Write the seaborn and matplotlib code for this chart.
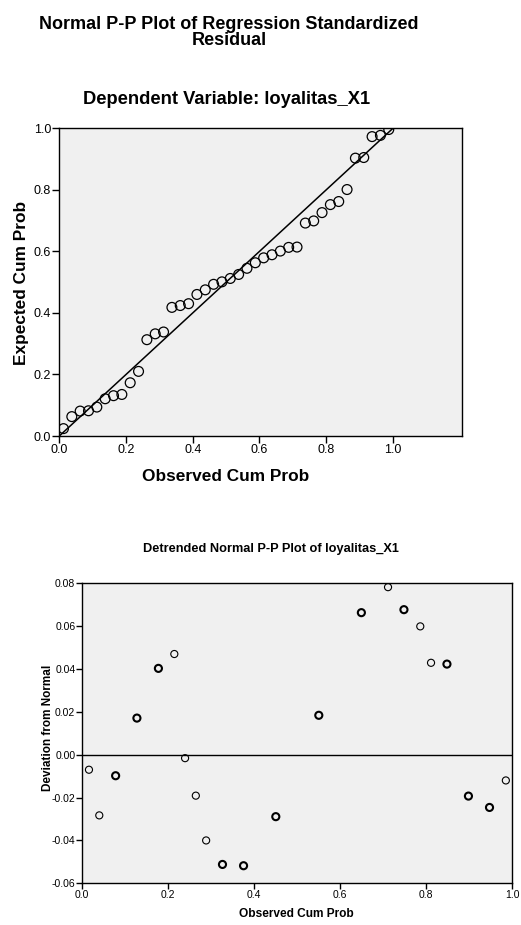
#Recrea los graficos P-P de los residuos estandarizados (SPSS)
import pandas as pd
import matplotlib.pyplot as plt
import seaborn as sns
import numpy as np

# P-P normal de los residuos (40 casos)
observado = [0.0125, 0.0375, 0.0625, 0.0875, 0.1125, 0.1375, 0.1625, 0.1875, 0.2125, 0.2375,
             0.2625, 0.2875, 0.3125, 0.3375, 0.3625, 0.3875, 0.4125, 0.4375, 0.4625, 0.4875,
             0.5125, 0.5375, 0.5625, 0.5875, 0.6125, 0.6375, 0.6625, 0.6875, 0.7125, 0.7375,
             0.7625, 0.7875, 0.8125, 0.8375, 0.8625, 0.8875, 0.9125, 0.9375, 0.9625, 0.9875]
esperado = [0.024, 0.063, 0.081, 0.082, 0.094, 0.121, 0.131, 0.135, 0.173, 0.210,
            0.313, 0.332, 0.338, 0.418, 0.424, 0.430, 0.460, 0.475, 0.493, 0.501,
            0.512, 0.525, 0.545, 0.563, 0.579, 0.589, 0.601, 0.613, 0.614, 0.692,
            0.699, 0.726, 0.752, 0.762, 0.801, 0.903, 0.905, 0.973, 0.977, 0.996]

# P-P normal sin tendencia de loyalitas_X1
obs_det = [0.0155, 0.0395, 0.0775, 0.127, 0.177, 0.214, 0.239, 0.264, 0.288, 0.326, 0.375,
           0.450, 0.550, 0.649, 0.711, 0.748, 0.786, 0.811, 0.848, 0.898, 0.947, 0.985]
desviacion = [-0.0070, -0.0283, -0.0098, 0.0171, 0.0403, 0.0470, -0.0016, -0.0191, -0.0400,
              -0.0512, -0.0518, -0.0289, 0.0184, 0.0663, 0.0782, 0.0677, 0.0599, 0.0429,
              0.0423, -0.0193, -0.0246, -0.0120]
# casos repetidos en el mismo punto (se ven mas gruesos)
repetidos = [1, 1, 2, 2, 2, 1, 1, 1, 1, 2, 2, 2, 2, 2, 1, 2, 1, 1, 2, 2, 2, 1]

xticks_pp = [0.0, 0.2, 0.4, 0.6, 0.8, 1.0]
yticks_det = [-0.06, -0.04, -0.02, 0.00, 0.02, 0.04, 0.06, 0.08]

sns.set_style("ticks")
plt.rcParams['font.family'] = ['Liberation Sans', 'DejaVu Sans']
for k in ["text.color", "axes.labelcolor", "xtick.color", "ytick.color", "axes.edgecolor"]:
    plt.rcParams[k] = "black"
fondo = "#f0f0f0"

fig = plt.figure(figsize=(5.21, 9.25), dpi=100)

#Grafico de arriba
ax1 = fig.add_axes([59.3 / 521, 1 - 436 / 925, (462 - 59.3) / 521, 307.7 / 925])
ax1.set_facecolor(fondo)
datos = pd.DataFrame({"Observed Cum Prob": observado, "Expected Cum Prob": esperado})
ax1.axline((0, 0), slope=1, color="black", lw=1.1, zorder=1)
sns.scatterplot(data=datos, x="Observed Cum Prob", y="Expected Cum Prob", ax=ax1,
                s=50, facecolor="none", edgecolor="black", linewidth=0.9, zorder=2)
ax1.set_xlim(0, 1.207)
ax1.set_ylim(0, 1.0)
ax1.set_xticks(xticks_pp)
ax1.set_yticks(xticks_pp)
ax1.set_xticklabels([f"{v:.1f}" for v in xticks_pp])
ax1.set_yticklabels([f"{v:.1f}" for v in xticks_pp])
ax1.tick_params(labelsize=9, length=5, width=1, pad=1, color="black")
ax1.set_xlabel("")
ax1.set_ylabel("")
for s in ax1.spines.values():
    s.set_linewidth(1)
    s.set_color("black")

fig.text(229 / 521, 1 - 29 / 925, "Normal P-P Plot of Regression Standardized",
         ha="center", va="baseline", fontsize=13, fontweight="bold")
fig.text(229 / 521, 1 - 45 / 925, "Residual",
         ha="center", va="baseline", fontsize=13, fontweight="bold")
fig.text(227 / 521, 1 - 100 / 925, "Dependent Variable: loyalitas_X1",
         ha="center", va="center", fontsize=13.2, fontweight="bold")
fig.text(226 / 521, 1 - 477 / 925, "Observed Cum Prob",
         ha="center", va="center", fontsize=12.4, fontweight="bold")
fig.text(22 / 521, 1 - 283 / 925, "Expected Cum Prob", rotation=90,
         ha="center", va="center", fontsize=12.4, fontweight="bold")

#Grafico de abajo
ax2 = fig.add_axes([82.3 / 521, 1 - 883.3 / 925, 430 / 521, 300 / 925])
ax2.set_facecolor(fondo)
det = pd.DataFrame({"Observed Cum Prob": obs_det, "Deviation from Normal": desviacion,
                    "n": repetidos})
ax2.axhline(0, color="black", lw=1, zorder=1)
sns.scatterplot(data=det, x="Observed Cum Prob", y="Deviation from Normal", ax=ax2,
                s=26, facecolor="none", edgecolor="black",
                linewidth=[0.8 if n == 1 else 1.5 for n in repetidos], zorder=2)
ax2.set_xlim(0, 1.0)
ax2.set_ylim(-0.06, 0.08)
ax2.set_xticks(xticks_pp)
ax2.set_yticks(yticks_det)
ax2.set_xticklabels([f"{v:.1f}" for v in xticks_pp])
ax2.set_yticklabels([f"{v:.2f}" for v in yticks_det])
ax2.tick_params(labelsize=7.5, length=4, width=1, pad=1, color="black")
ax2.set_xlabel("")
ax2.set_ylabel("")
for s in ax2.spines.values():
    s.set_linewidth(1)
    s.set_color("black")

fig.text(271 / 521, 1 - 549 / 925, "Detrended Normal P-P Plot of loyalitas_X1",
         ha="center", va="center", fontsize=9.2, fontweight="bold")
fig.text(296 / 521, 1 - 914 / 925, "Observed Cum Prob",
         ha="center", va="center", fontsize=8.6, fontweight="bold")
fig.text(48 / 521, 1 - 728 / 925, "Deviation from Normal", rotation=90,
         ha="center", va="center", fontsize=8.5, fontweight="bold")

plt.savefig("out.png", dpi=100)
